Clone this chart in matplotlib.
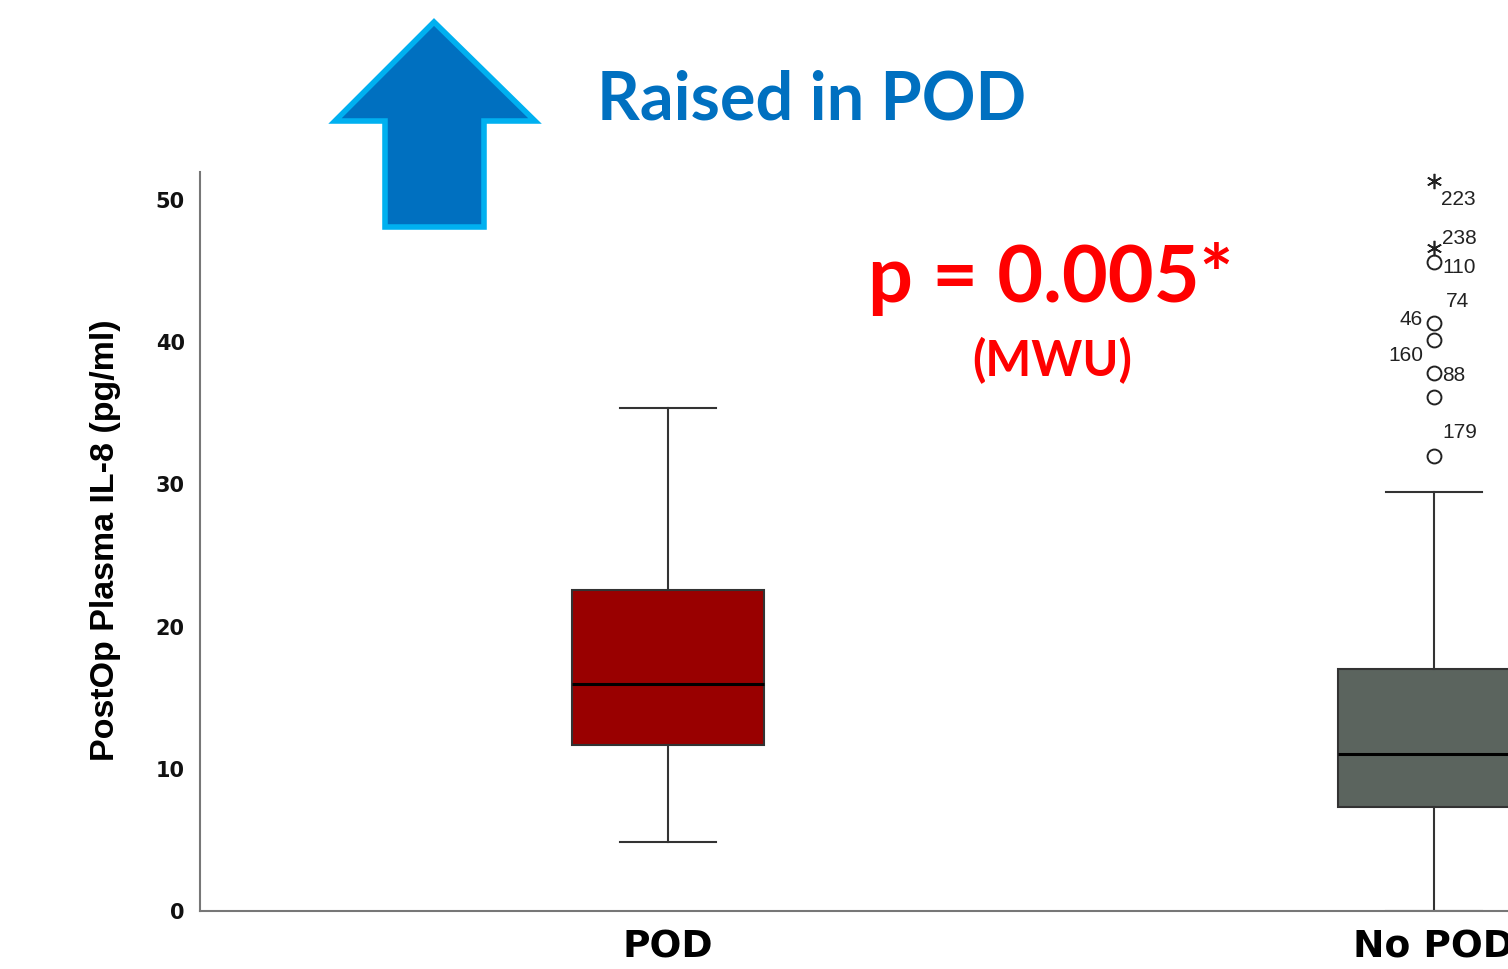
import matplotlib
matplotlib.use("Agg")
import matplotlib.pyplot as plt
from matplotlib.patches import Polygon
from matplotlib import font_manager

# ---- data ----
categories = ["POD", "No POD"]
whislo = [4.85, 0.0]
q1 = [11.67, 7.31]
med = [15.95, 11.03]
q3 = [22.56, 17.0]
whishi = [35.35, 29.45]
box_colors = ["#990000", "#5b645e"]

outlier_ids = ["223", "238", "110", "74", "46", "88", "160", "179"]
outlier_vals = [51.37, 46.59, 45.61, 41.32, 40.13, 37.81, 36.12, 31.97]
outlier_extreme = [True, True, False, False, False, False, False, False]
y_ticks = [0, 10, 20, 30, 40, 50]

# label offsets (pixels) and alignment
label_offsets = [(7, -19, "left"), (8, 10, "left"), (8, -5, "left"), (12, 22, "left"),
                 (-11, 21, "right"), (8, -2, "left"), (-11, 42, "right"), (8, 24, "left")]

W, H = 1508, 969
fig = plt.figure(figsize=(W / 100, H / 100), dpi=100)

def fx(px):
    return px / W

def fy(py):
    return 1 - py / H

ax = fig.add_axes([fx(200), fy(911), 1 - fx(200), fy(172) - fy(911)])

stats = []
for i, c in enumerate(categories):
    stats.append(dict(label=c, whislo=whislo[i], q1=q1[i], med=med[i], q3=q3[i],
                      whishi=whishi[i], fliers=[]))
bp = ax.bxp(stats, positions=[1, 2], widths=0.25, patch_artist=True, showfliers=False,
            boxprops=dict(linewidth=1.5, edgecolor="#333333"),
            medianprops=dict(color="black", linewidth=2.2),
            whiskerprops=dict(color="#333333", linewidth=1.5),
            capprops=dict(color="#333333", linewidth=1.5),
            capwidths=0.125)
for patch, col in zip(bp["boxes"], box_colors):
    patch.set_facecolor(col)

# outliers for No POD
for vid, v, ext, (dx, dy, ha) in zip(outlier_ids, outlier_vals, outlier_extreme, label_offsets):
    if ext:
        ax.plot(2, v, marker=(6, 2, 0), markersize=11, color="#222222", mew=1.2, clip_on=False)
    else:
        ax.plot(2, v, marker="o", markersize=10, mfc="none", mec="#222222", mew=1.4, clip_on=False)
    ax.annotate(vid, xy=(2, v), xytext=(dx, dy), textcoords="offset pixels",
                ha=ha, va="center", fontsize=15, family="Liberation Sans",
                color="#222222", annotation_clip=False)

ax.set_xlim(1 - 468 / 766, 2 + 74 / 766)
ax.set_ylim(0, (911 - 172) / 14.22)
ax.set_yticks(y_ticks)
ax.set_yticklabels([str(t) for t in y_ticks], fontsize=15, fontweight="bold", family="DejaVu Sans",
                   color="#111111")
ax.set_xticks([1, 2])
ax.set_xticklabels(categories, fontsize=27, fontweight="bold", family="DejaVu Sans", color="black")
ax.tick_params(axis="y", length=0, pad=11)
ax.tick_params(axis="x", length=0, pad=13)
for s in ["top", "right"]:
    ax.spines[s].set_visible(False)
for s in ["left", "bottom"]:
    ax.spines[s].set_color("#777777")
    ax.spines[s].set_linewidth(1.5)

# y label (condensed bold if available)
ylab_family = "Liberation Sans"
try:
    font_manager.findfont("Liberation Sans Narrow", fallback_to_default=False)
    ylab_family = "Liberation Sans Narrow"
except Exception:
    pass
fig.text(fx(106), fy(540), "PostOp Plasma IL-8 (pg/ml)", rotation=90, ha="center", va="center",
         fontsize=28 if ylab_family.endswith("Narrow") else 24.5, fontweight="bold",
         family=ylab_family, color="black")

# arrow
arrow_px = [(434, 22), (335, 121), (385, 121), (385, 227), (484, 227), (484, 121), (535, 121)]
arrow = Polygon([(fx(x), fy(y)) for x, y in arrow_px], closed=True, transform=fig.transFigure,
                facecolor="#0070C0", edgecolor="#00B0F0", linewidth=4, joinstyle="miter")
fig.patches.append(arrow)

fig.text(fx(597), fy(101), "Raised in POD", ha="left", va="center", fontsize=48,
         fontweight="bold", family="Lato", color="#0070C0")
fig.text(fx(1051), fy(279), "p = 0.005*", ha="center", va="center", fontsize=57,
         fontweight="bold", family="Lato", color="#FF0000")
fig.text(fx(1052), fy(361), "(MWU)", ha="center", va="center", fontsize=35,
         fontweight="bold", family="Lato", color="#FF0000")

fig.savefig("out.png", dpi=100)
